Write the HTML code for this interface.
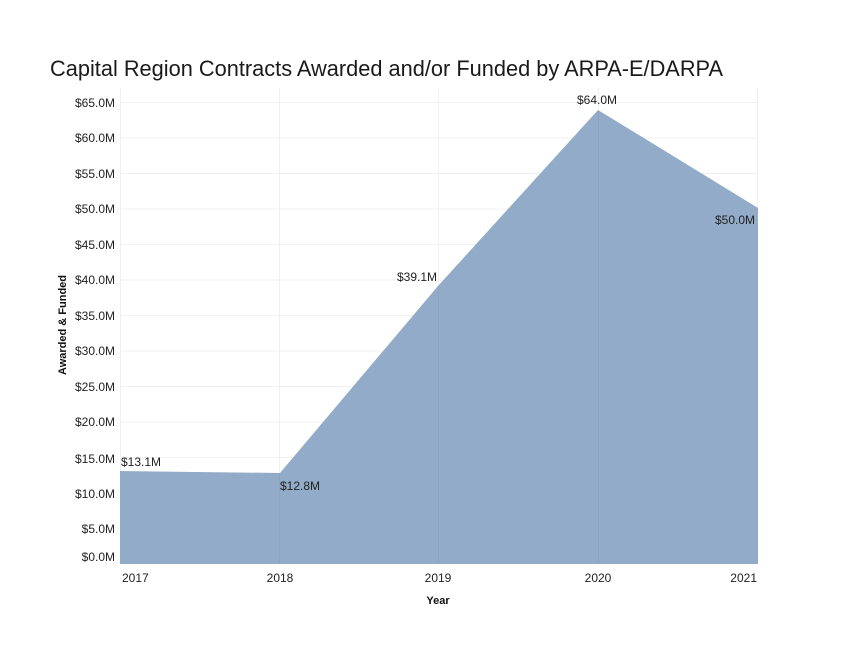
<!DOCTYPE html>
<html>
<head>
<meta charset="utf-8">
<style>
html,body{margin:0;padding:0;background:#fff;}
svg{display:block;}
text{font-family:"Liberation Sans",sans-serif;}
</style>
</head>
<body>
<svg width="854" height="660" viewBox="0 0 854 660" xmlns="http://www.w3.org/2000/svg">
<rect width="854" height="660" fill="#fff"/>
<text x="50" y="76" font-size="22" fill="#1a1a1a" textLength="673" lengthAdjust="spacingAndGlyphs">Capital Region Contracts Awarded and/or Funded by ARPA-E/DARPA</text>
<g stroke="#f0f0f0" stroke-width="1">
<line x1="120" y1="102.5" x2="758" y2="102.5"/>
<line x1="120" y1="138" x2="758" y2="138"/>
<line x1="120" y1="173.5" x2="758" y2="173.5"/>
<line x1="120" y1="209" x2="758" y2="209"/>
<line x1="120" y1="244.5" x2="758" y2="244.5"/>
<line x1="120" y1="280" x2="758" y2="280"/>
<line x1="120" y1="315.5" x2="758" y2="315.5"/>
<line x1="120" y1="351" x2="758" y2="351"/>
<line x1="120" y1="386.5" x2="758" y2="386.5"/>
<line x1="120" y1="422" x2="758" y2="422"/>
<line x1="120" y1="457.5" x2="758" y2="457.5"/>
<line x1="120" y1="493" x2="758" y2="493"/>
<line x1="120" y1="528.5" x2="758" y2="528.5"/>
<line x1="120.5" y1="88" x2="120.5" y2="564"/>
<line x1="279.5" y1="88" x2="279.5" y2="564"/>
<line x1="438.5" y1="88" x2="438.5" y2="564"/>
<line x1="598.5" y1="88" x2="598.5" y2="564"/>
<line x1="757.5" y1="88" x2="757.5" y2="564"/>
</g>
<polygon points="120,471 280,473 438,286 598,110 758,208 758,564 120,564" fill="#91abc9"/>
<g stroke="#8aa4c2" stroke-width="1">
<line x1="279.5" y1="473" x2="279.5" y2="564"/>
<line x1="438.5" y1="287" x2="438.5" y2="564"/>
<line x1="598.5" y1="111" x2="598.5" y2="564"/>
</g>
<g font-size="12" fill="#222" text-anchor="end">
<text x="115" y="107">$65.0M</text>
<text x="115" y="142">$60.0M</text>
<text x="115" y="178">$55.0M</text>
<text x="115" y="213">$50.0M</text>
<text x="115" y="249">$45.0M</text>
<text x="115" y="284">$40.0M</text>
<text x="115" y="320">$35.0M</text>
<text x="115" y="355">$30.0M</text>
<text x="115" y="391">$25.0M</text>
<text x="115" y="426">$20.0M</text>
<text x="115" y="463">$15.0M</text>
<text x="115" y="498">$10.0M</text>
<text x="115" y="533">$5.0M</text>
<text x="115" y="561">$0.0M</text>
</g>
<text transform="translate(66,325) rotate(-90)" font-size="11" font-weight="bold" fill="#111" text-anchor="middle">Awarded &amp; Funded</text>
<g font-size="12" fill="#222">
<text x="122" y="582">2017</text>
<text x="280" y="582" text-anchor="middle">2018</text>
<text x="438" y="582" text-anchor="middle">2019</text>
<text x="598" y="582" text-anchor="middle">2020</text>
<text x="757" y="582" text-anchor="end">2021</text>
</g>
<text x="438" y="604" font-size="11" font-weight="bold" fill="#111" text-anchor="middle">Year</text>
<g font-size="12" fill="#222">
<text x="121" y="466">$13.1M</text>
<text x="280" y="490">$12.8M</text>
<text x="397" y="281">$39.1M</text>
<text x="577" y="104">$64.0M</text>
<text x="715" y="224">$50.0M</text>
</g>
</svg>
</body>
</html>
